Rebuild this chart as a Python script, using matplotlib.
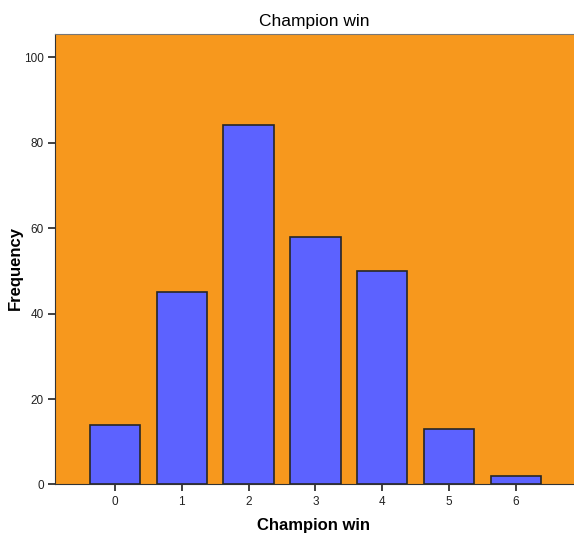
import matplotlib
matplotlib.use("Agg")
import matplotlib.pyplot as plt

plt.rcParams['font.family'] = ['Liberation Sans', 'DejaVu Sans']

wins = [0, 1, 2, 3, 4, 5, 6]
freq = [14, 45, 84, 58, 50, 13, 2]
yticks = [0, 20, 40, 60, 80, 100]

fig = plt.figure(figsize=(5.74, 5.36), dpi=100)
ax = fig.add_axes([0.0958, 0.0961, 0.9042, 0.8405])

ax.set_facecolor('#F7981D')
ax.bar(wins, freq, width=0.753, color='#5C62FF', edgecolor='#262626', linewidth=1.2, zorder=2)

ax.set_xlim(-0.898, 6.87)
ax.set_ylim(0, 105.4)
ax.set_xticks(wins)
ax.set_yticks(yticks)
ax.tick_params(labelsize=8.5, length=5, width=1.2, colors='#222222', pad=3)

ax.spines['right'].set_visible(False)
ax.spines['left'].set_color('#333333')
ax.spines['bottom'].set_color('#333333')
ax.spines['top'].set_color('#777777')

ax.set_title('Champion win', fontsize=12.5, pad=6)
fig.text(0.546, 0.02, 'Champion win', fontsize=12, fontweight='bold', ha='center', va='center')
fig.text(0.027, 0.5, 'Frequency', fontsize=12, fontweight='bold', rotation=90, ha='center', va='center')

fig.savefig('out.png', dpi=100)
